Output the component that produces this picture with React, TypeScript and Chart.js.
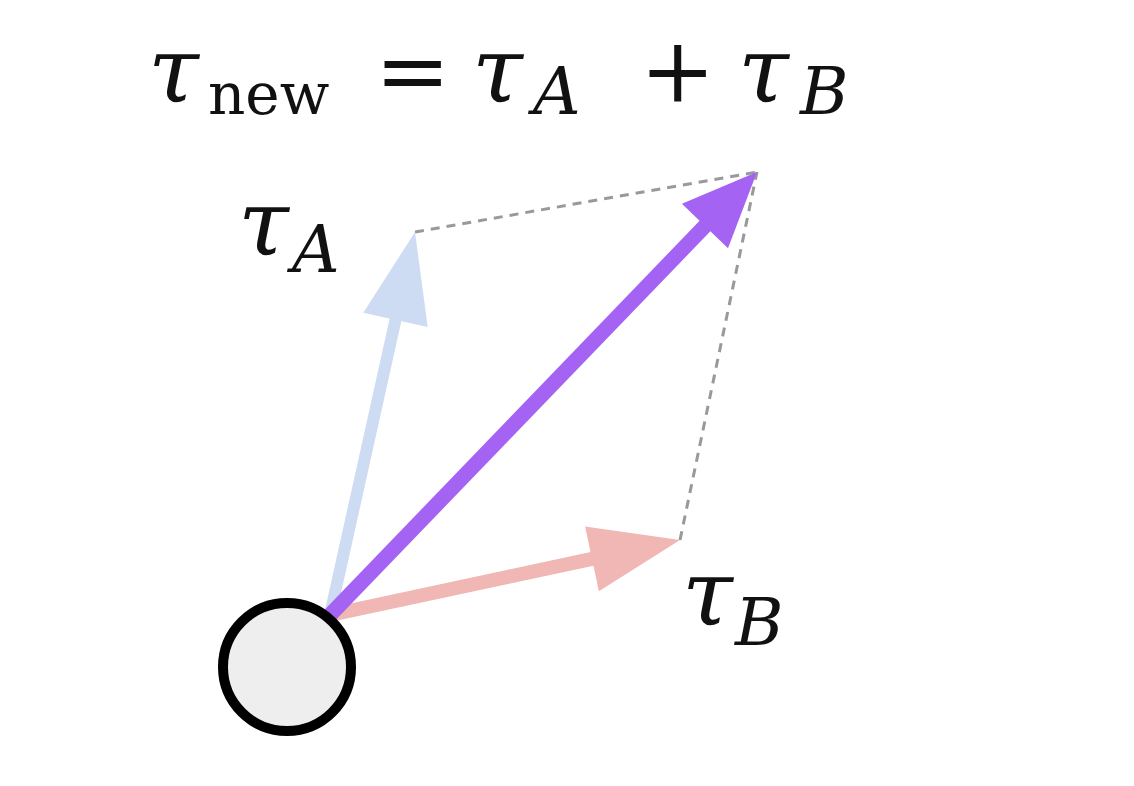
import { useEffect, useRef } from 'react';
import Chart from 'chart.js/auto';

// diagram coordinates (pixel-like units, y grows downwards)
const origin = [330, 615];
const circleCenter = [287, 667];
const vectorNames = ['A', 'B', 'new'];
const vectorTipX = [415, 680, 757];
const vectorTipY = [232, 540, 172];
const vectorColors = ['#cddcf3', '#f0b7b5', '#a463f2'];

const arrowStyle = [
  { width: 12, headLen: 90, headW: 66 },
  { width: 14, headLen: 90, headW: 66 },
  { width: 15, headLen: 75, headW: 64 },
];

const App = () => {
  const ref = useRef<HTMLCanvasElement>(null);

  useEffect(() => {
    document.body.style.margin = '0';
    if (!ref.current) return;

    // shorten shafts so they end under the heads
    const shaft = (i: number) => {
      const dx = vectorTipX[i] - origin[0];
      const dy = vectorTipY[i] - origin[1];
      const len = Math.hypot(dx, dy);
      const k = (len - arrowStyle[i].headLen * 0.8) / len;
      return [
        { x: origin[0], y: origin[1] },
        { x: origin[0] + dx * k, y: origin[1] + dy * k },
      ];
    };

    const heads = {
      id: 'heads',
      afterDatasetsDraw(chart: any) {
        const { ctx, scales } = chart;
        const px = (v: number) => scales.x.getPixelForValue(v);
        const py = (v: number) => scales.y.getPixelForValue(v);
        ctx.save();
        vectorNames.forEach((_, i) => {
          const tx = px(vectorTipX[i]);
          const ty = py(vectorTipY[i]);
          const ox = px(origin[0]);
          const oy = py(origin[1]);
          const a = Math.atan2(ty - oy, tx - ox);
          const { headLen, headW } = arrowStyle[i];
          const bx = tx - Math.cos(a) * headLen;
          const by = ty - Math.sin(a) * headLen;
          const nx = -Math.sin(a) * headW / 2;
          const ny = Math.cos(a) * headW / 2;
          ctx.fillStyle = vectorColors[i];
          ctx.beginPath();
          ctx.moveTo(tx, ty);
          ctx.lineTo(bx + nx, by + ny);
          ctx.lineTo(bx - nx, by - ny);
          ctx.closePath();
          ctx.fill();
        });

        // labels
        ctx.fillStyle = '#111';
        ctx.textBaseline = 'alphabetic';
        const it = (s: number) => `italic ${s}px 'DejaVu Serif', 'Liberation Serif', serif`;
        const up = (s: number) => `${s}px 'DejaVu Serif', 'Liberation Serif', serif`;
        const put = (t: string, f: string, x: number, y: number) => {
          ctx.font = f;
          ctx.fillText(t, x, y);
        };
        put('τ', it(92), 148, 102);
        put('new', up(58), 208, 114);
        put('=', up(90), 375, 102);
        put('τ', it(92), 472, 102);
        put('A', it(66), 533, 114);
        put('+', up(90), 640, 102);
        put('τ', it(92), 738, 102);
        put('B', it(66), 800, 114);

        put('τ', it(92), 238, 255);
        put('A', it(66), 292, 272);
        put('τ', it(92), 682, 625);
        put('B', it(66), 735, 645);
        ctx.restore();
      },
    };

    const chart = new Chart(ref.current, {
      type: 'scatter',
      data: {
        datasets: [
          {
            type: 'line',
            data: [
              { x: vectorTipX[0], y: vectorTipY[0] },
              { x: vectorTipX[2], y: vectorTipY[2] },
            ],
            borderColor: '#999999',
            borderWidth: 3,
            borderDash: [9, 7],
            pointRadius: 0,
            order: 5,
          },
          {
            type: 'line',
            data: [
              { x: vectorTipX[1], y: vectorTipY[1] },
              { x: vectorTipX[2], y: vectorTipY[2] },
            ],
            borderColor: '#999999',
            borderWidth: 3,
            borderDash: [9, 7],
            pointRadius: 0,
            order: 5,
          },
          ...vectorNames.map((_, i) => ({
            type: 'line' as const,
            data: shaft(i),
            borderColor: vectorColors[i],
            borderWidth: arrowStyle[i].width,
            borderCapStyle: 'butt' as const,
            pointRadius: 0,
            order: 4 - i,
          })),
          {
            data: [{ x: circleCenter[0], y: circleCenter[1] }],
            pointRadius: 64,
            backgroundColor: '#eeeeee',
            borderColor: '#000000',
            borderWidth: 10,
            clip: false,
            order: 0,
          },
        ],
      },
      options: {
        responsive: false,
        animation: false,
        layout: { padding: 0, autoPadding: false },
        plugins: { legend: { display: false }, tooltip: { enabled: false } },
        scales: {
          x: { type: 'linear', min: 0, max: 1134, display: false },
          y: { type: 'linear', min: 0, max: 786, reverse: true, display: false },
        },
      },
      plugins: [heads],
    });

    return () => chart.destroy();
  }, []);

  return (
    <div style={{ width: 1134, height: 786, background: '#fff' }}>
      <canvas ref={ref} width={1134} height={786} />
    </div>
  );
};

export default App;
